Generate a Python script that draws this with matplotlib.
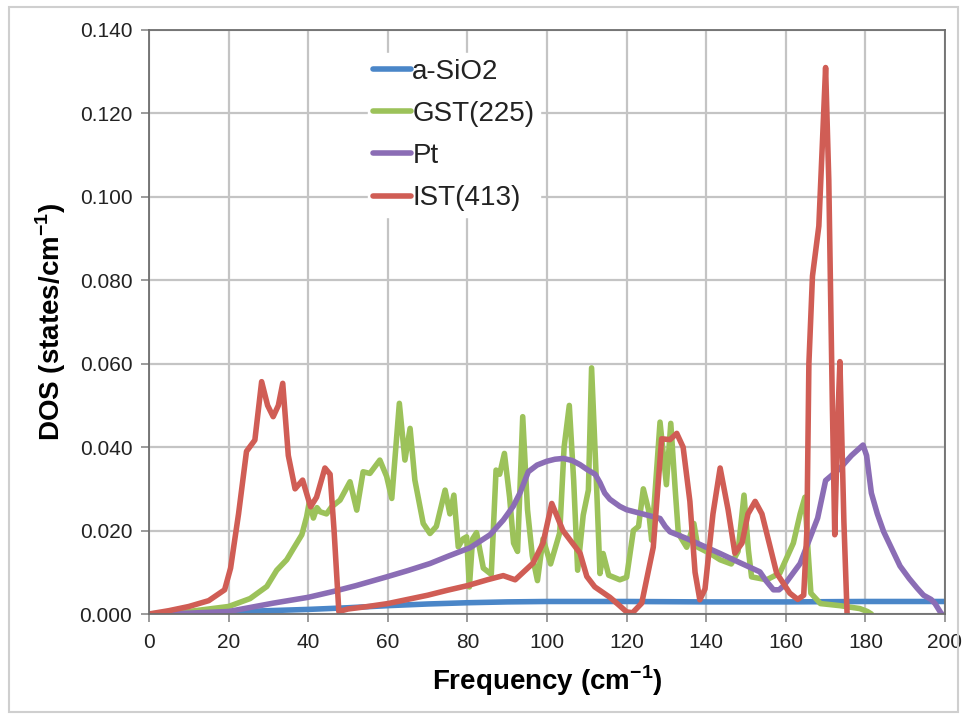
import matplotlib
matplotlib.use("Agg")
import matplotlib.pyplot as plt
from matplotlib.patches import Rectangle

plt.rcParams['font.family'] = ['Liberation Sans', 'DejaVu Sans']
plt.rcParams['mathtext.fontset'] = 'custom'
plt.rcParams['mathtext.rm'] = 'Liberation Sans'
plt.rcParams['mathtext.bf'] = 'Liberation Sans:bold'

# ---------------- data ----------------
sio2_x = [0, 10, 20, 30, 40, 50, 60, 70, 80, 90, 100, 120, 140, 160, 180, 200]
sio2_y = [0, 0.0002, 0.0005, 0.0008, 0.0011, 0.0015, 0.0020, 0.0024, 0.0027, 0.0029,
          0.0030, 0.0030, 0.0029, 0.0029, 0.0030, 0.0030]

gst_x = [0, 10, 20, 25.4, 29.6, 32.1, 34.6, 36.3, 38.4, 39.6, 40.3, 41.3, 42.2, 43, 44.6,
         45.9, 48, 50.5, 52.2, 53.8, 55.5, 58, 59.7, 61, 62.9, 64.3, 65.6, 66.8, 68.9,
         70.6, 72.2, 74.4, 75.6, 76.6, 77.7, 78.9, 79.8, 80.5, 81.3, 82.3, 84, 86, 87.2,
         88.1, 89.3, 90.6, 91.6, 92.6, 93.9, 95.1, 96.3, 97.6, 99, 100.9, 103.2, 104.3,
         105.6, 106.7, 107.7, 109.1, 110.4, 111.2, 112.4, 113.3, 114.1, 115.5, 118.3, 120,
         121.7, 123, 124.2, 125.5, 126.3, 128.4, 130, 131.1, 132.2, 133, 135.1, 136.9,
         137.9, 141, 143.5, 146.3, 148, 149.5, 150.6, 151.4, 155.2, 158.5, 161.9, 163.6,
         164.8, 165.6, 166.3, 168.7, 173.6, 178.6, 180.5, 181.5]
gst_y = [0, 0.0006, 0.0018, 0.0037, 0.0066, 0.0105, 0.0130, 0.0157, 0.0190, 0.0233, 0.0270,
         0.0230, 0.0255, 0.0245, 0.0240, 0.0257, 0.0273, 0.0317, 0.0249, 0.0341, 0.0337,
         0.0369, 0.0330, 0.0277, 0.0505, 0.0369, 0.0445, 0.0321, 0.0217, 0.0193, 0.0210,
         0.0297, 0.0240, 0.0285, 0.0161, 0.0180, 0.0185, 0.0065, 0.0180, 0.0195, 0.0110,
         0.0095, 0.0345, 0.0335, 0.0385, 0.0280, 0.0170, 0.0150, 0.0473, 0.0250, 0.0140,
         0.0080, 0.0180, 0.0120, 0.0195, 0.0400, 0.0500, 0.0320, 0.0105, 0.0237, 0.0297,
         0.0590, 0.0320, 0.0097, 0.0145, 0.0093, 0.0082, 0.0088, 0.0200, 0.0210, 0.0300,
         0.0250, 0.0177, 0.0460, 0.0310, 0.0457, 0.0300, 0.0193, 0.0160, 0.0217, 0.0160,
         0.0145, 0.0130, 0.0120, 0.0150, 0.0285, 0.0153, 0.0089, 0.0082, 0.0098, 0.0170,
         0.0240, 0.0280, 0.0150, 0.0050, 0.0025, 0.0020, 0.0013, 0.0006, 0.0]

pt_x = [0, 10, 20, 31.2, 40, 46.3, 52, 59.7, 65, 70.6, 75, 80.7, 85.7, 89, 91.5, 93.2, 95.3,
        97.5, 99.9, 102, 104.1, 106.3, 108.3, 110.3, 112.1, 113.3, 114.5, 115.8, 118.3, 120,
        124, 128.4, 129.7, 130.9, 135.1, 140, 143.5, 148, 153.5, 155, 156.9, 158.3, 159.5,
        163.6, 168, 170, 173.7, 176.5, 179.4, 180.3, 181.5, 183, 184.6, 188.7, 191, 193,
        194.6, 196.5, 197.5, 198.8, 199.2]
pt_y = [0, 0.0002, 0.0006, 0.0026, 0.0040, 0.0054, 0.0068, 0.0089, 0.0104, 0.0121, 0.0138,
        0.0159, 0.0190, 0.0225, 0.0258, 0.0290, 0.0341, 0.0357, 0.0366, 0.0371, 0.0373,
        0.0368, 0.0358, 0.0345, 0.0335, 0.0315, 0.0290, 0.0275, 0.0258, 0.0250, 0.0240,
        0.0229, 0.0210, 0.0197, 0.0181, 0.0160, 0.0145, 0.0125, 0.0101, 0.0080, 0.0058,
        0.0058, 0.0068, 0.0121, 0.0230, 0.0320, 0.0350, 0.0380, 0.0405, 0.0380, 0.0290,
        0.0240, 0.0197, 0.0115, 0.0085, 0.0062, 0.0045, 0.0035, 0.0025, 0.0005, 0.0]

ist_x = [0, 5, 10, 15, 19, 20.5, 22.5, 24.5, 26.6, 28.3, 29.8, 31.2, 32.5, 33.6, 35.0, 36.7,
         38.6, 40.6, 42.1, 44.2, 45.5, 46.5, 47.7, 50, 55, 60, 65, 70, 75, 80, 85, 89, 92,
         96.5, 99, 101.2, 104, 108.3, 110, 112, 115.8, 118, 120, 121.5, 123.8, 126.7, 128.8,
         130.9, 132.6, 134.2, 135.9, 137.2, 138.4, 139.7, 141.7, 143.5, 145.5, 147.2, 149,
         150.5, 152.3, 154, 155.2, 157.7, 161, 163, 164.5, 165.3, 165.8, 166.7, 168.3, 169.2,
         170, 170.8, 171.7, 172.3, 173, 173.6, 174.6, 175.4]
ist_y = [0, 0.0008, 0.0018, 0.0032, 0.0058, 0.0110, 0.0240, 0.0390, 0.0417, 0.0557, 0.0500,
         0.0473, 0.0500, 0.0553, 0.0380, 0.0300, 0.0321, 0.0257, 0.0280, 0.0350, 0.0335,
         0.0200, 0.0006, 0.0012, 0.0018, 0.0025, 0.0035, 0.0045, 0.0057, 0.0068, 0.0082,
         0.0092, 0.0082, 0.0122, 0.0170, 0.0265, 0.0200, 0.0146, 0.0090, 0.0065, 0.0040,
         0.0022, 0.0005, 0.0003, 0.0026, 0.0160, 0.0420, 0.0418, 0.0433, 0.0400, 0.0270,
         0.0100, 0.0034, 0.0060, 0.0240, 0.0350, 0.0250, 0.0146, 0.0170, 0.0240, 0.0270,
         0.0240, 0.0194, 0.0098, 0.0050, 0.0035, 0.0045, 0.0200, 0.0600, 0.0810, 0.0930,
         0.1130, 0.1310, 0.1040, 0.0500, 0.0190, 0.0450, 0.0605, 0.0220, 0.0]

labels = ['a-SiO2', 'GST(225)', 'Pt', 'IST(413)']
colors = ['#4A86C8', '#9CC25A', '#8B6DB5', '#D05D55']

x_ticks = list(range(0, 201, 20))
y_ticks = [0.0, 0.02, 0.04, 0.06, 0.08, 0.10, 0.12, 0.14]
y_ticklabels = ['%.3f' % v for v in y_ticks]

# ---------------- figure ----------------
W, H = 968, 716
fig = plt.figure(figsize=(W / 100, H / 100), dpi=100)
fig.patch.set_facecolor('white')
fig.patches.append(Rectangle((9 / W, 1 - 712 / H), (958 - 9) / W, (712 - 7) / H,
                             transform=fig.transFigure, fill=False,
                             edgecolor='#CFCFCF', lw=1.5))

ax = fig.add_axes([149 / W, 1 - 614 / H, (945 - 149) / W, (614 - 30) / H])

series = [(sio2_x, sio2_y), (gst_x, gst_y), (pt_x, pt_y), (ist_x, ist_y)]
for (xs, ys), lab, c in zip(series, labels, colors):
    ax.plot(xs, ys, color=c, lw=4.0, label=lab, solid_joinstyle='round',
            solid_capstyle='round')

ax.set_xlim(0, 200)
ax.set_ylim(0, 0.14)
ax.set_xticks(x_ticks)
ax.set_yticks(y_ticks)
ax.set_yticklabels(y_ticklabels)
ax.grid(True, color='#C4C4C4', lw=1.6)
ax.set_axisbelow(True)
for s in ax.spines.values():
    s.set_color('#6E6E6E')
    s.set_linewidth(1.3)
ax.tick_params(axis='both', direction='out', length=6, width=1.2, color='#8A8A8A',
               labelsize=15, labelcolor='#222222')
ax.tick_params(axis='x', pad=8)
ax.tick_params(axis='y', pad=6)

ax.set_xlabel('Frequency (cm$^{\\mathbf{-1}}$)', fontsize=20, fontweight='bold', labelpad=8)
ax.set_ylabel('DOS (states/cm$^{\\mathbf{-1}}$)', fontsize=20, fontweight='bold', labelpad=8)

leg = ax.legend(loc='upper left', bbox_to_anchor=(0.275, 0.96), frameon=True,
                fontsize=20, handlelength=1.35, handletextpad=0.05, labelspacing=0.58,
                borderpad=0.2, borderaxespad=0.0)
leg.get_frame().set_facecolor('white')
leg.get_frame().set_edgecolor('white')
leg.get_frame().set_alpha(1.0)
for t in leg.get_texts():
    t.set_color('#222222')

fig.savefig('out.png', dpi=100, facecolor='white')
